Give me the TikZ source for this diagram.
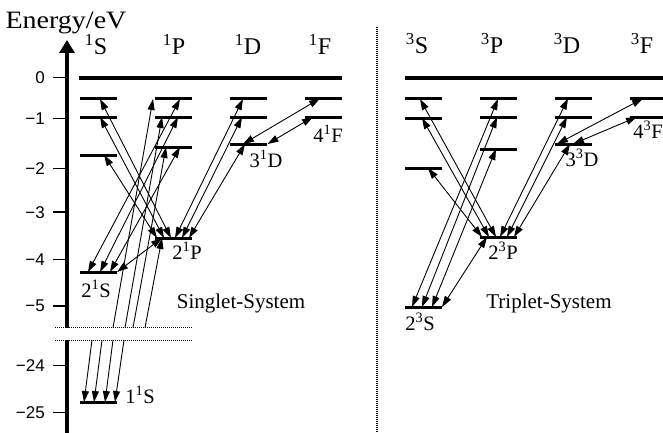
\documentclass[tikz,border=0pt]{standalone}
\usepackage{fontspec}
\setmainfont{Liberation Serif}
\newfontfamily\axisfont{Liberation Sans}
\usetikzlibrary{arrows.meta, calc}
\tikzset{
  every node/.style={inner sep=0pt, font=\fontsize{20.5}{22}\selectfont},
  LV/.style={fill=black, minimum width=37pt, minimum height=3pt},
  ZL/.style={fill=black, minimum height=4pt},
  TR/.style={{Triangle[length=11pt,width=7pt]}-{Triangle[length=11pt,width=7pt]}, line width=0.9pt},
  UP/.style={-{Triangle[length=11pt,width=7pt]}, line width=0.9pt},
  HD/.style={anchor=base, font=\fontsize{24}{26}\selectfont},
  LB/.style={anchor=base},
  TK/.style={anchor=east, font=\axisfont\fontsize{17}{19}\selectfont},
  BRK/.style={line width=1pt, dash pattern=on 1pt off 1pt},
}
\newcommand{\tr}[4]{\draw[TR] ($(#1)+(#2,0)$) -- ($(#3)+(#4,0)$);}

\begin{document}
\begin{tikzpicture}[x=1pt, y=1pt, yscale=-1]
\useasboundingbox (0,0) rectangle (663,433);

%% axis
\coordinate (axtop) at (67,40);
\coordinate (axbrk) at (67,327.7);
\coordinate (axlow) at (67,340);
\coordinate (axbot) at (67,433);
\draw[line width=3.5pt, -{Triangle[length=13pt,width=15pt]}] (axbrk) -- (axtop);
\draw[line width=3.5pt] (axlow) -- (axbot);
\node[anchor=base] (elabel) at (66,29) {\scalebox{1.12}[1]{\fontsize{25}{27}\selectfont Energy/eV}};
\foreach \n/\y/\t in {a/77.7/0, b/118.3/−1, c/168.3/−2, d/212.2/−3, e/259.3/−4, f/306/−5, g/365.7/−24, h/412.3/−25} {
  \draw[line width=1.5pt] (53,\y) -- (66,\y);
  \node[TK] (tk\n) at (45,\y) {\t};
}
\draw[BRK] (55,327.7) -- (193,327.7);
\draw[BRK] (55,340) -- (193,340);
\draw[line width=1.2pt, dash pattern=on 1pt off 1pt] (377,27) -- (377,433);

%% singlet levels
\node[ZL, minimum width=263pt] (zs) at (210.5,77.7) {};
\node[LV] (s5) at (98,99) {};
\node[LV] (s4) at (98,117) {};
\node[LV] (s3) at (98,155) {};
\node[LV] (s2) at (98,272) {};
\node[LV] (s1) at (98,402) {};
\node[LV] (p5) at (173.5,99) {};
\node[LV] (p4) at (173.5,117) {};
\node[LV] (p3) at (173.5,147) {};
\node[LV] (p2) at (173.5,238) {};
\node[LV] (d5) at (248.5,99) {};
\node[LV] (d4) at (248.5,117) {};
\node[LV] (d3) at (248.5,144) {};
\node[LV] (f5) at (323.5,98.5) {};
\node[LV] (f4) at (323.5,117) {};

\node[HD] (hs) at (96,55) {\textsuperscript{1}S};
\node[HD] (hp) at (174,55) {\textsuperscript{1}P};
\node[HD] (hd) at (248,55) {\textsuperscript{1}D};
\node[HD] (hf) at (320,55) {\textsuperscript{1}F};

\node[LB] (ls2) at (96,297) {2\textsuperscript{1}S};
\node[LB] (lp2) at (187,259.5) {2\textsuperscript{1}P};
\node[LB] (ls1) at (140,403) {1\textsuperscript{1}S};
\node[LB] (ld3) at (266,167) {3\textsuperscript{1}D};
\node[LB] (lf4) at (328,142) {4\textsuperscript{1}F};
\node[LB, font=\fontsize{21}{23}\selectfont] (lsing) at (241,308.5) {Singlet-System};

\tr{s5}{2}{p2}{-2.5}
\tr{s4}{2}{p2}{-9.5}
\tr{s3}{6}{p2}{-16.5}
\tr{p2}{1.5}{d5}{-5.5}
\tr{p2}{8.5}{d4}{-6.5}
\tr{p2}{15.5}{d3}{-3.5}
\tr{d3}{-5.5}{f5}{-3.5}
\tr{d3}{19}{f4}{-10.5}
\tr{s2}{-10}{p5}{6.5}
\tr{s2}{2}{p4}{4.5}
\tr{s2}{12}{p3}{6.5}
\tr{s2}{19}{p2}{-11.5}

% 1S lines, split at the break
\coordinate (ua) at (113,327.7);
\coordinate (ub) at (125,327.7);
\coordinate (uc) at (133,327.7);
\coordinate (ud) at (145,327.7);
\coordinate (la) at (92,340);
\coordinate (lb) at (102,340);
\coordinate (lc) at (113,340);
\coordinate (ld) at (124,340);
\draw[UP] (ua) -- ($(p5)+(-20.5,0)$);
\draw[UP] (ub) -- ($(p4)+(-11.5,0)$);
\draw[UP] (uc) -- ($(p3)+(-7.5,0)$);
\draw[UP] (ud) -- ($(p2)+(-11.5,0)$);
\draw[UP] (la) -- ($(s1)+(-14,0)$);
\draw[UP] (lb) -- ($(s1)+(-4,0)$);
\draw[UP] (lc) -- ($(s1)+(7,0)$);
\draw[UP] (ld) -- ($(s1)+(17,0)$);

%% triplet levels
\node[ZL, minimum width=258pt] (zt) at (534,77.7) {};
\node[LV] (ts5) at (423.5,99) {};
\node[LV] (ts4) at (423.5,118) {};
\node[LV] (ts3) at (423.5,168) {};
\node[LV] (ts2) at (423.5,307) {};
\node[LV] (tp5) at (498.5,99) {};
\node[LV] (tp4) at (498.5,117) {};
\node[LV] (tp3) at (498.5,149) {};
\node[LV] (tp2) at (498.5,237) {};
\node[LV] (td5) at (573.5,98.5) {};
\node[LV] (td4) at (573.5,117) {};
\node[LV] (td3) at (573.5,144) {};
\node[LV] (tf5) at (648.5,98.5) {};
\node[LV] (tf4) at (648.5,117) {};

\node[HD] (ths) at (417,54) {\textsuperscript{3}S};
\node[HD] (thp) at (492,54) {\textsuperscript{3}P};
\node[HD] (thd) at (567,54) {\textsuperscript{3}D};
\node[HD] (thf) at (642,54) {\textsuperscript{3}F};

\node[LB] (lts2) at (420,330) {2\textsuperscript{3}S};
\node[LB] (ltp2) at (503,259.5) {2\textsuperscript{3}P};
\node[LB] (ltd3) at (582,166) {3\textsuperscript{3}D};
\node[LB] (ltf4) at (648,138.5) {4\textsuperscript{3}F};
\node[LB, font=\fontsize{21}{23}\selectfont] (ltrip) at (549,308.5) {Triplet-System};

\tr{ts5}{-3.5}{tp2}{-2.5}
\tr{ts4}{-1.5}{tp2}{-9.5}
\tr{ts3}{4.5}{tp2}{-16.5}
\tr{tp2}{1.5}{td5}{-5.5}
\tr{tp2}{8.5}{td4}{-6.5}
\tr{tp2}{15.5}{td3}{-3.5}
\tr{td3}{-16.5}{tf5}{-5.5}
\tr{td3}{-0.5}{tf4}{-11.5}
\tr{ts2}{-11.5}{tp5}{-0.5}
\tr{ts2}{-1.5}{tp4}{-1.5}
\tr{ts2}{8.5}{tp3}{-2.5}
\tr{ts2}{18.5}{tp2}{-11.5}

\end{tikzpicture}
\end{document}
